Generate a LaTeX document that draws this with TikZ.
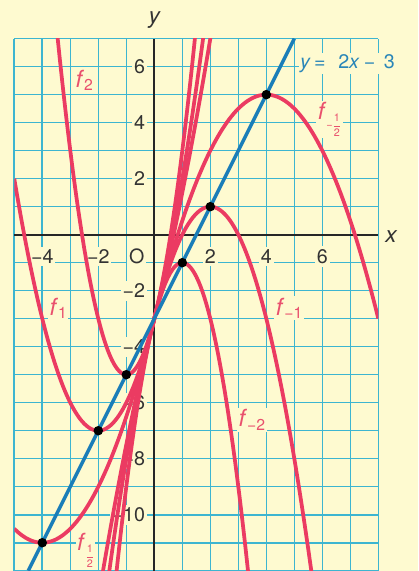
\documentclass[tikz,border=0pt]{standalone}
\usepackage{fontspec}
\usepackage{amsmath}
\setmainfont{TeX Gyre Heros}
\definecolor{bg}{HTML}{FEFAD0}
\definecolor{gridc}{HTML}{3DB5D0}
\definecolor{redc}{HTML}{EB3B62}
\definecolor{redl}{HTML}{E9506D}
\definecolor{bluec}{HTML}{1A7DB8}
\definecolor{bluel}{HTML}{2A86B8}
\definecolor{txt}{HTML}{333333}
\newcommand\hlf{$\dfrac{\text{1}}{\text{2}}$}
\newcommand\fl[1]{\fontsize{24}{24}\selectfont\textit{f}\raisebox{-3.5pt}{\fontsize{16}{16}\selectfont #1}}
\newcommand\ffr[1]{\fontsize{24}{24}\selectfont\textit{f}\raisebox{-9pt}{\fontsize{11}{11}\selectfont #1\hlf}}
\tikzset{
  gridline/.style={gridc, line width=1.6pt},
  axisline/.style={black!85, line width=2pt},
  ticklab/.style={fill=bg, text=txt, inner xsep=2pt, inner ysep=3pt, font=\fontsize{20}{22}\selectfont},
  curvelab/.style={fill=bg, text=redl, inner sep=1.5pt, anchor=base west},
  parab/.style={redc, line width=3.8pt},
  tline/.style={bluec, line width=3.5pt},
  dot/.style={circle, fill=black, inner sep=0pt, minimum size=0.34cm},
  axlab/.style={text=txt, font=\fontsize{23}{24}\selectfont\itshape}
}
\begin{document}
\begin{tikzpicture}[x=1cm,y=1cm]
\useasboundingbox[fill=bg] (-5.51,-12.01) rectangle (9.42,8.38);
\draw[gridline] (-5,-12) grid (8,7);
\draw[axisline] (-5,0) -- (8,0);
\draw[axisline] (0,-12) -- (0,7);
% tick labels
\foreach \x/\t in {-4/−4,-2/−2,2/2,4/4,6/6}
  \node[ticklab] (xl\x) at (\x,-0.78) {\t};
\foreach \y/\t in {6/6,4/4,2/2,-2/−2,-4/−4,-6/−6,-8/−8,-10/−10}
  \node[ticklab, anchor=east] (yl\y) at (-0.25,\y) {\t};
\node[ticklab] (orig) at (-0.63,-0.76) {O};
\node[axlab] (ylab) at (0,7.68) {y};
\node[axlab] (xlab) at (8.45,-0.07) {x};
% curve labels
\node[curvelab] (l2) at (-2.87,5.26) {\fl{2}};
\node[curvelab] (l1) at (-3.8,-2.87) {\fl{1}};
\node[curvelab] (lm1) at (4.28,-2.87) {\fl{−1}};
\node[curvelab] (lm2) at (2.95,-6.86) {\fl{−2}};
\node[curvelab] (lh) at (-2.82,-11.29) {\ffr{}};
\node[curvelab] (lmh) at (5.78,4.1) {\ffr{−}};
\node[fill=bg, text=bluel, inner sep=1.5pt, anchor=base west, font=\fontsize{20}{22}\selectfont] (eq) at (5.15,5.94)
  {\textit{y}\hspace{0.12cm}=\hspace{0.45cm}2\textit{x}\hspace{0.15cm}−\hspace{0.3cm}3};
% curves
\begin{scope}
\clip (-5,-12) rectangle (8,7);
\draw[parab] plot[domain=-3.5:1.5, samples=160] (\x, {2*\x*\x+4*\x-3});
\draw[parab] plot[domain=-5:1.8, samples=160] (\x, {\x*\x+4*\x-3});
\draw[parab] plot[domain=-5:2.05, samples=160] (\x, {0.5*\x*\x+4*\x-3});
\draw[parab] plot[domain=-1.9:8, samples=160] (\x, {-0.5*\x*\x+4*\x-3});
\draw[parab] plot[domain=-1.65:5.65, samples=160] (\x, {-\x*\x+4*\x-3});
\draw[parab] plot[domain=-1.4:3.4, samples=160] (\x, {-2*\x*\x+4*\x-3});
\coordinate (lb) at (-4.5,-12);
\coordinate (lt) at (5,7);
\draw[tline] (lb) -- (lt);
\end{scope}
\node[dot] (p1) at (4,5) {};
\node[dot] (p2) at (2,1) {};
\node[dot] (p3) at (1,-1) {};
\node[dot] (p4) at (-1,-5) {};
\node[dot] (p5) at (-2,-7) {};
\node[dot] (p6) at (-4,-11) {};
\end{tikzpicture}
\end{document}
